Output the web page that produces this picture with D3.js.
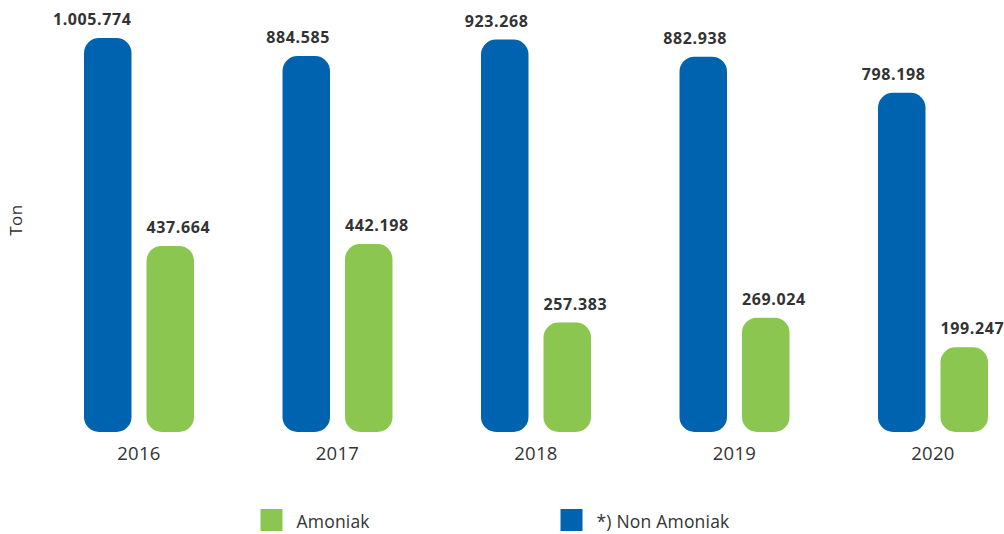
<!DOCTYPE html>
<html>
<head>
<meta charset="utf-8">
<script src="https://cdn.jsdelivr.net/npm/d3@7/dist/d3.min.js"></script>
<style>
  html, body { margin: 0; padding: 0; background: #fff; }
  svg { display: block; font-family: "Open Sans", "DejaVu Sans", sans-serif; }
</style>
</head>
<body>
<svg id="chart" width="1004" height="534"></svg>
<script>
// Yearly volumes (ton)
const years = ["2016", "2017", "2018", "2019", "2020"];
const nonAmoniak = [1005774, 884585, 923268, 882938, 798198];
const amoniak = [437664, 442198, 257383, 269024, 199247];
const seriesNames = ["Amoniak", "*) Non Amoniak"];

const BLUE = "#0063B0";
const GREEN = "#8BC650";
const TEXT = "#333333";

const svg = d3.select("#chart");

const fmt = v => d3.format(",")(v).replace(/,/g, ".");

// Band per year
const x0 = d3.scaleBand().domain(years).range([60.5, 1053]).paddingInner(0).paddingOuter(0);
const barW = 47.5, gap = 15;
const groupOffset = 23.5;

// Value axis: the tallest bar is capped at the top of the plot
const y = d3.scaleLinear().domain([0, 927000]).range([432, 38]).clamp(true);

const groups = years.map((yr, i) => ({
  year: yr,
  bars: [
    { key: "non", value: nonAmoniak[i], color: BLUE, x: x0(yr) + groupOffset },
    { key: "amo", value: amoniak[i], color: GREEN, x: x0(yr) + groupOffset + barW + gap }
  ]
}));

const grp = svg.append("g").selectAll("g.year").data(groups).join("g").attr("class", "year");

grp.selectAll("rect").data(d => d.bars).join("rect")
  .attr("x", d => d.x)
  .attr("y", d => y(d.value))
  .attr("width", barW)
  .attr("height", d => y(0) - y(d.value))
  .attr("rx", 15).attr("ry", 15)
  .attr("fill", d => d.color);

// Value labels: blue label right-aligned to its bar, green label left-aligned
grp.selectAll("text.val").data(d => d.bars).join("text")
  .attr("class", "val")
  .attr("x", d => d.key === "non" ? d.x + barW : d.x)
  .attr("y", d => y(d.value) - 13)
  .attr("text-anchor", d => d.key === "non" ? "end" : "start")
  .attr("font-size", 16)
  .attr("font-weight", 700)
  .attr("letter-spacing", 0.6)
  .attr("fill", TEXT)
  .text(d => fmt(d.value));

// Year labels
grp.append("text")
  .attr("x", d => d.bars[0].x + (barW * 2 + gap) / 2)
  .attr("y", 460)
  .attr("text-anchor", "middle")
  .attr("font-size", 18.5)
  .attr("letter-spacing", 0.3)
  .attr("fill", TEXT)
  .text(d => d.year);

// Axis title
svg.append("text")
  .attr("transform", "translate(22,220) rotate(-90)")
  .attr("text-anchor", "middle")
  .attr("font-size", 17)
  .attr("letter-spacing", 0.5)
  .attr("fill", TEXT)
  .text("Ton");

// Legend
const legend = [
  { name: seriesNames[0], color: GREEN, x: 260.5 },
  { name: seriesNames[1], color: BLUE, x: 560.5 }
];
const lg = svg.selectAll("g.legend").data(legend).join("g").attr("class", "legend")
  .attr("transform", d => `translate(${d.x},509)`);
lg.append("rect").attr("width", 22).attr("height", 22).attr("fill", d => d.color);
lg.append("text").attr("x", 36).attr("y", 18.5).attr("font-size", 17.5)
  .attr("letter-spacing", 0.2).attr("fill", TEXT).text(d => d.name);
</script>
</body>
</html>
